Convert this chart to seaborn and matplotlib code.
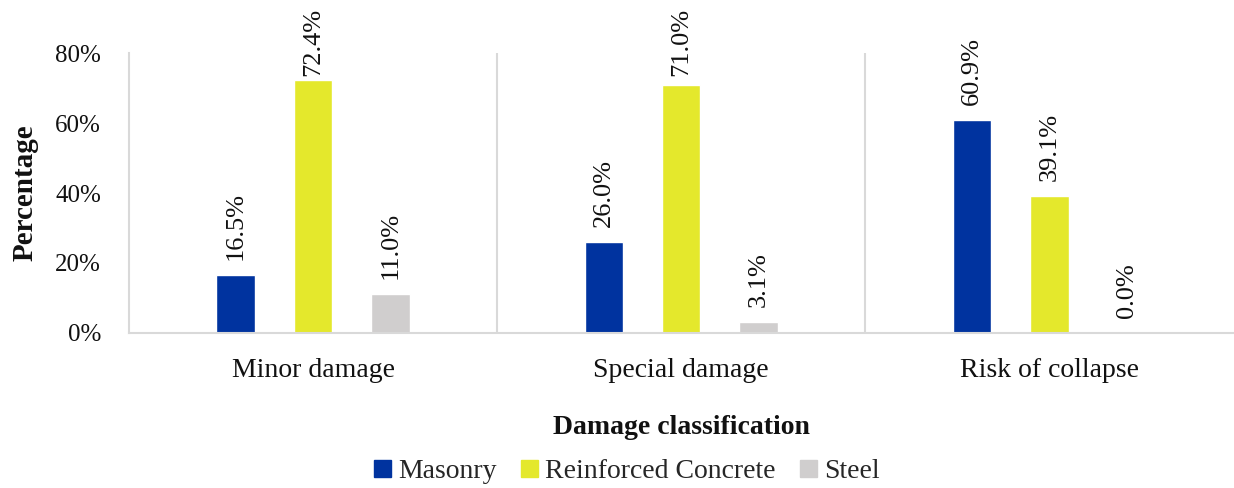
import matplotlib
matplotlib.use("Agg")
import matplotlib.pyplot as plt
import seaborn as sns
import pandas as pd

categories = ["Minor damage", "Special damage", "Risk of collapse"]
materials = ["Masonry", "Reinforced Concrete", "Steel"]
masonry = [16.5, 26.0, 60.9]
reinforced_concrete = [72.4, 71.0, 39.1]
steel = [11.0, 3.1, 0.0]
y_ticks = [0, 20, 40, 60, 80]
y_tick_labels = ["0%", "20%", "40%", "60%", "80%"]

palette = {"Masonry": "#00339F", "Reinforced Concrete": "#E4E82C", "Steel": "#D0CECE"}

rows = []
for mat, vals in zip(materials, [masonry, reinforced_concrete, steel]):
    for cat, v in zip(categories, vals):
        rows.append({"Damage": cat, "Material": mat, "Value": v})
df = pd.DataFrame(rows)

sns.set_theme(style="white")
plt.rcParams["font.family"] = ["Liberation Serif", "DejaVu Serif"]

fig = plt.figure(figsize=(12.34, 4.88), dpi=100)
ax = fig.add_axes([0.1045, 0.318, 0.895, 0.573])

sns.barplot(data=df, x="Damage", y="Value", hue="Material", order=categories,
            hue_order=materials, palette=palette, width=0.63, gap=0.5,
            saturation=1, errorbar=None, legend=False, ax=ax)

ax.set_ylim(0, 80)
ax.set_xlim(-0.5, 2.5)
ax.set_yticks(y_ticks)
ax.set_yticklabels(y_tick_labels, fontsize=18)
ax.tick_params(axis="both", length=0, colors="#111111")
ax.tick_params(axis="y", labelsize=18, pad=20)
ax.tick_params(axis="x", labelsize=20, pad=18)

for side in ["top", "right"]:
    ax.spines[side].set_visible(False)
for side in ["left", "bottom"]:
    ax.spines[side].set_color("#D9D9D9")
    ax.spines[side].set_linewidth(1.5)

for xb in [0.5, 1.5]:
    ax.axvline(xb, color="#D9D9D9", lw=1.5, zorder=0)

# Value labels above each bar; labels that would run past the top of the
# figure are pulled down to stay inside it.
labels = []
for container in ax.containers:
    vals = [b.get_height() for b in container]
    labels += ax.bar_label(container, labels=[f"{v:.1f}%" for v in vals],
                           rotation=90, padding=11, fontsize=19,
                           color="#111111")

fig.canvas.draw()
renderer = fig.canvas.get_renderer()
top_limit = fig.bbox.height - 8
for t in labels:
    bb = t.get_window_extent(renderer)
    if bb.y1 > top_limit:
        shift_px = bb.y1 - top_limit
        x0, y0 = t.xyann
        t.xyann = (x0, y0 - shift_px * 72.0 / fig.dpi)

ax.set_xlabel("Damage classification", fontsize=20, fontweight="bold",
              labelpad=23, color="#111111")
ax.set_ylabel("Percentage", fontsize=21, fontweight="bold", labelpad=12,
              color="#111111")

handles = [plt.Rectangle((0, 0), 1, 1, color=palette[m]) for m in materials]
fig.legend(handles, materials, loc="center", bbox_to_anchor=(0.508, 0.033),
           ncol=3, frameon=False, fontsize=20, handlelength=0.6,
           handleheight=0.6, handletextpad=0.25, columnspacing=0.9)

fig.savefig("out.png", dpi=100)
